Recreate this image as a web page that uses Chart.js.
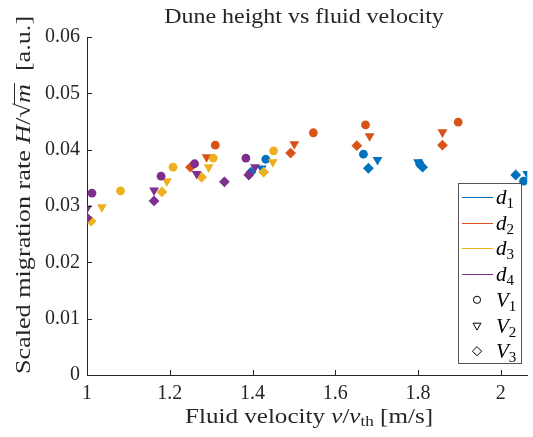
<!DOCTYPE html>
<html lang="en">
<head>
<meta charset="utf-8">
<title>Dune height vs fluid velocity</title>
<script src="https://cdn.jsdelivr.net/npm/chart.js@4.4.1/dist/chart.umd.min.js"></script>
<style>
  html, body { margin: 0; padding: 0; background: #fff; overflow: hidden; }
</style>
</head>
<body>
<canvas id="chart" width="533" height="437"></canvas>
<script>
  // categories
  const diameters = ['d1', 'd2', 'd3', 'd4'];
  const velocities = ['V1', 'V2', 'V3'];
  const colors = ['#0072BD', '#D95319', '#EDB120', '#7E2F8E'];
  const markers = ['circle', 'triangle', 'rectRot'];

  // tick labels
  const xTicks = [1, 1.2, 1.4, 1.6, 1.8, 2];
  const yTicks = [0, 0.01, 0.02, 0.03, 0.04, 0.05, 0.06];

  // fluid velocity v/v_th (x) and scaled migration rate (y)
  const d1V1x = [1.432, 1.668, 1.804, 2.055];
  const d1V1y = [0.0383, 0.0392, 0.0375, 0.0344];
  const d1V2x = [1.422, 1.702, 1.800, 2.064];
  const d1V2y = [0.0367, 0.0382, 0.0378, 0.0357];
  const d1V3x = [1.396, 1.680, 1.811, 2.036];
  const d1V3y = [0.0360, 0.0367, 0.0369, 0.0355];

  const d2V1x = [1.310, 1.547, 1.673, 1.897];
  const d2V1y = [0.0408, 0.0430, 0.0444, 0.0449];
  const d2V2x = [1.289, 1.501, 1.683, 1.859];
  const d2V2y = [0.0387, 0.0410, 0.0424, 0.0431];
  const d2V3x = [1.250, 1.492, 1.652, 1.859];
  const d2V3y = [0.0369, 0.0394, 0.0407, 0.0408];

  const d3V1x = [1.081, 1.208, 1.305, 1.451];
  const d3V1y = [0.0327, 0.0369, 0.0385, 0.0398];
  const d3V2x = [1.036, 1.193, 1.294, 1.449];
  const d3V2y = [0.0298, 0.0344, 0.0369, 0.0378];
  const d3V3x = [1.010, 1.181, 1.277, 1.427];
  const d3V3y = [0.0273, 0.0325, 0.0351, 0.0360];

  const d4V1x = [1.012, 1.179, 1.260, 1.384];
  const d4V1y = [0.0323, 0.0353, 0.0375, 0.0385];
  const d4V2x = [1.000, 1.162, 1.265, 1.406];
  const d4V2y = [0.0296, 0.0328, 0.0357, 0.0369];
  const d4V3x = [1.000, 1.162, 1.332, 1.391];
  const d4V3y = [0.0279, 0.0309, 0.0343, 0.0355];

  const series = [
    [[d1V1x, d1V1y], [d1V2x, d1V2y], [d1V3x, d1V3y]],
    [[d2V1x, d2V1y], [d2V2x, d2V2y], [d2V3x, d2V3y]],
    [[d3V1x, d3V1y], [d3V2x, d3V2y], [d3V3x, d3V3y]],
    [[d4V1x, d4V1y], [d4V2x, d4V2y], [d4V3x, d4V3y]]
  ];

  const SERIF = '"Liberation Serif", "DejaVu Serif", serif';
  const INK = '#262626';

  let datasets = [];
  series.forEach(function(bySpeed, i) {
    bySpeed.forEach(function(xy, j) {
      datasets.push({
        label: diameters[i] + ' ' + velocities[j],
        data: xy[0].map((x, k) => ({x: x, y: xy[1][k]})),
        pointStyle: markers[j],
        rotation: j === 1 ? 180 : 0,
        pointRadius: j === 0 ? 4.4 : (j === 1 ? 5.7 : 5.4),
        backgroundColor: colors[i],
        borderColor: colors[i],
        borderWidth: 0,
        showLine: false,
        order: 4 - i
      });
    });
  });

  // draws a run of text pieces with mixed styles, centred on x = 0 of the current transform
  function richText(ctx, parts, sx) {
    ctx.save();
    ctx.scale(sx, 1);
    let total = 0;
    parts.forEach(function(p) {
      ctx.font = (p.italic ? 'italic ' : '') + p.size + 'px ' + SERIF;
      p.w = ctx.measureText(p.t).width;
      total += p.w;
    });
    let x = -total / 2;
    ctx.textBaseline = 'alphabetic';
    ctx.textAlign = 'left';
    parts.forEach(function(p) {
      ctx.font = (p.italic ? 'italic ' : '') + p.size + 'px ' + SERIF;
      ctx.fillText(p.t, x, p.dy || 0);
      if (p.over) {
        ctx.fillRect(x - 1, -16, p.w + 2, 1);
      }
      x += p.w;
    });
    ctx.restore();
  }

  const decorations = {
    id: 'decorations',
    afterDraw(chart) {
      const ctx = chart.ctx;
      const area = chart.chartArea;
      const xs = chart.scales.x;
      const ys = chart.scales.y;
      ctx.save();
      ctx.fillStyle = INK;
      ctx.strokeStyle = INK;
      ctx.lineWidth = 1;

      // inward tick marks
      ctx.beginPath();
      xTicks.forEach(function(v) {
        const px = Math.round(xs.getPixelForValue(v)) + 0.5;
        ctx.moveTo(px, area.bottom);
        ctx.lineTo(px, area.bottom - 5);
      });
      yTicks.forEach(function(v) {
        const py = Math.round(ys.getPixelForValue(v)) + 0.5;
        ctx.moveTo(area.left, py);
        ctx.lineTo(area.left + 5, py);
      });
      ctx.stroke();

      // title
      ctx.save();
      ctx.translate(304, 23);
      richText(ctx, [{t: 'Dune height vs fluid velocity', size: 22}], 1.09);
      ctx.restore();

      // x axis title
      ctx.save();
      ctx.translate(309, 423);
      richText(ctx, [
        {t: 'Fluid velocity ', size: 22},
        {t: 'v', size: 22, italic: true},
        {t: '/', size: 22},
        {t: 'v', size: 22, italic: true},
        {t: 'th', size: 15, dy: 3},
        {t: ' [m/s]', size: 22}
      ], 1.14);
      ctx.restore();

      // y axis title
      ctx.save();
      ctx.translate(30, 195);
      ctx.rotate(-Math.PI / 2);
      richText(ctx, [
        {t: 'Scaled migration rate ', size: 22},
        {t: 'H', size: 22, italic: true},
        {t: '/', size: 22},
        {t: '\u221A', size: 22},
        {t: 'm', size: 22, italic: true, over: true},
        {t: '  [a.u.]', size: 22}
      ], 1.19);
      ctx.restore();

      // legend
      const lx = 458.5, ly = 183.5, lw = 63, lh = 180;
      ctx.fillStyle = '#fff';
      ctx.fillRect(lx, ly, lw, lh);
      ctx.strokeStyle = '#555';
      ctx.strokeRect(lx, ly, lw, lh);
      const rowH = 25.7;
      const rows = diameters.concat(velocities);
      rows.forEach(function(name, r) {
        const cy = 197 + r * rowH;
        if (r < 4) {
          ctx.strokeStyle = colors[r];
          ctx.lineWidth = 1;
          ctx.beginPath();
          ctx.moveTo(462, Math.round(cy) + 0.5);
          ctx.lineTo(493, Math.round(cy) + 0.5);
          ctx.stroke();
        } else {
          const j = r - 4;
          ctx.strokeStyle = '#000';
          ctx.fillStyle = 'rgba(0,0,0,0)';
          ctx.lineWidth = 1;
          Chart.helpers.drawPoint(ctx, {
            pointStyle: markers[j],
            radius: j === 0 ? 3.6 : (j === 1 ? 4.6 : 4.6),
            rotation: j === 1 ? 180 : 0,
            borderWidth: 1
          }, 477, cy);
        }
        ctx.fillStyle = '#000';
        ctx.textAlign = 'left';
        ctx.textBaseline = 'alphabetic';
        ctx.font = 'italic 21px ' + SERIF;
        const main = name.charAt(0);
        ctx.fillText(main, 496, cy + 7);
        const mw = ctx.measureText(main).width;
        ctx.font = '15px ' + SERIF;
        ctx.fillText(name.charAt(1), 496 + mw, cy + 11);
      });
      ctx.restore();
    }
  };

  const tickFont = {family: SERIF, size: 20};

  new Chart(document.getElementById('chart'), {
    type: 'scatter',
    data: {datasets: datasets},
    options: {
      responsive: false,
      animation: false,
      devicePixelRatio: 1,
      layout: {padding: {top: 37, left: 0, right: 0, bottom: 0}},
      plugins: {
        legend: {display: false},
        title: {display: false},
        tooltip: {enabled: false}
      },
      scales: {
        x: {
          type: 'linear',
          min: 1,
          max: 2.064,
          afterBuildTicks: function(scale) {
            scale.ticks = xTicks.map(v => ({value: v}));
          },
          afterFit: function(scale) { scale.height = 62; },
          ticks: {font: tickFont, color: INK, padding: 7, maxRotation: 0,
                  callback: v => String(v)},
          grid: {drawOnChartArea: false, drawTicks: false},
          border: {color: INK, width: 1}
        },
        y: {
          type: 'linear',
          min: 0,
          max: 0.06,
          afterBuildTicks: function(scale) {
            scale.ticks = yTicks.map(v => ({value: v}));
          },
          afterFit: function(scale) { scale.width = 87; },
          ticks: {font: tickFont, color: INK, padding: 7,
                  callback: v => String(v)},
          grid: {drawOnChartArea: false, drawTicks: false},
          border: {color: INK, width: 1}
        }
      }
    },
    plugins: [decorations]
  });
</script>
</body>
</html>
